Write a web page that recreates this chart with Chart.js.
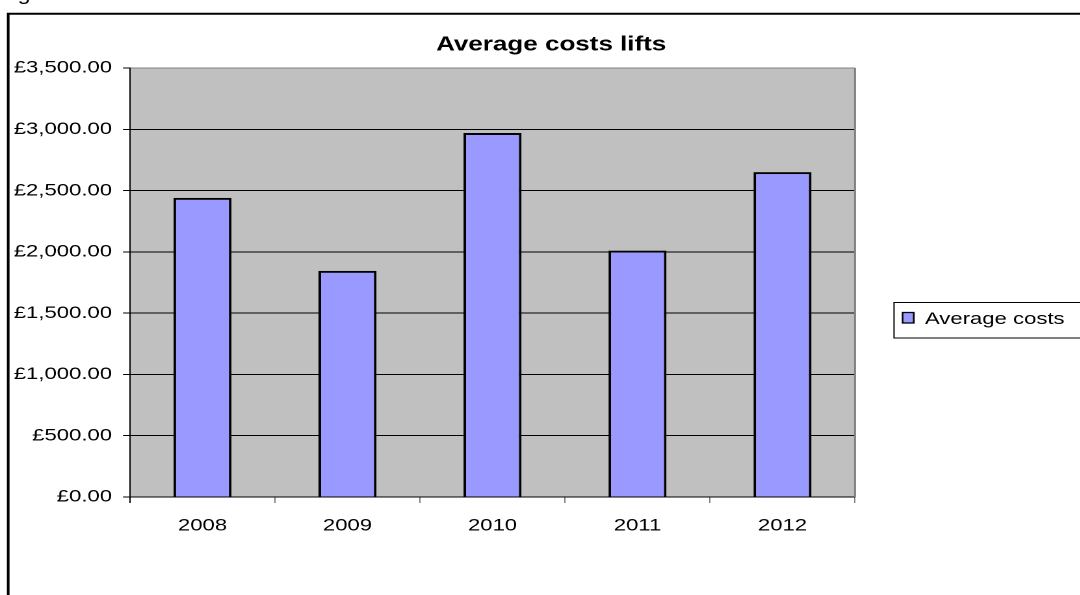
<!DOCTYPE html>
<html lang="en">
  <head>
    <meta charset="UTF-8" />
    <meta name="viewport" content="width=device-width, initial-scale=1.0" />
    <title>Average costs lifts</title>
    <script src="https://cdn.jsdelivr.net/npm/chart.js"></script>
    <style>
      html,
      body {
        margin: 0;
        padding: 0;
        background: #fff;
        overflow: hidden;
      }
      body {
        width: 1080px;
        height: 595px;
        position: relative;
      }
      /* the sheet is drawn narrow and widened, like the stretched chart object */
      #field {
        position: absolute;
        left: 0;
        top: 0;
        width: 848px;
        height: 595px;
        transform: scaleX(1.3);
        transform-origin: 0 0;
      }
    </style>
  </head>
  <body>
    <div id="field">
      <canvas id="myChart" width="848" height="595"></canvas>
    </div>

    <script>
      const chartTitle = "Average costs lifts";
      const seriesName = "Average costs";
      const years = ["2008", "2009", "2010", "2011", "2012"];
      const averageCosts = [2440, 1845, 2970, 2010, 2650];
      const yTicks = [0, 500, 1000, 1500, 2000, 2500, 3000, 3500];

      const fontFamily = '"Liberation Sans", Arial, sans-serif';
      const barColor = "#9999FF";
      const plotGrey = "#C0C0C0";
      const edgeGrey = "#808080";

      function pounds(v) {
        return (
          "£" +
          Number(v).toLocaleString("en-GB", {
            minimumFractionDigits: 2,
            maximumFractionDigits: 2,
          })
        );
      }

      // frame, grey plot area, title and boxed legend
      const sheetDecor = {
        id: "sheetDecor",
        beforeDraw(chart) {
          const { ctx, chartArea: a } = chart;
          ctx.save();
          // tail of the caption letter above the frame
          ctx.fillStyle = "#000";
          ctx.font = "18px " + fontFamily;
          ctx.textBaseline = "alphabetic";
          ctx.textAlign = "left";
          ctx.fillText("g", 13.5, 0);

          // outer chart frame
          ctx.strokeStyle = "#000";
          ctx.lineWidth = 2;
          ctx.beginPath();
          ctx.moveTo(6.3, 800);
          ctx.lineTo(6.3, 13.7);
          ctx.lineTo(845, 13.7);
          ctx.stroke();
          ctx.lineWidth = 1.5;
          ctx.beginPath();
          ctx.moveTo(6.3, 13);
          ctx.lineTo(6.3, 800);
          ctx.stroke();

          ctx.fillStyle = plotGrey;
          ctx.fillRect(a.left, a.top, a.right - a.left, a.bottom - a.top);
          ctx.restore();
        },
        beforeDatasetsDraw(chart) {
          const { ctx, chartArea: a } = chart;
          ctx.save();
          ctx.strokeStyle = edgeGrey;
          ctx.lineWidth = 1.5;
          ctx.beginPath();
          ctx.moveTo(a.right, a.top);
          ctx.lineTo(a.right, a.bottom);
          ctx.stroke();
          ctx.restore();
        },
        afterDraw(chart) {
          const { ctx } = chart;
          ctx.save();
          ctx.fillStyle = "#000";
          ctx.font = "bold 20px " + fontFamily;
          ctx.textAlign = "center";
          ctx.textBaseline = "middle";
          ctx.fillText(chartTitle, 424, 45);

          // legend box
          ctx.strokeStyle = "#000";
          ctx.lineWidth = 1;
          ctx.strokeRect(687.7, 302.5, 170, 35.5);
          const ds = chart.data.datasets[0];
          ctx.fillStyle = ds.backgroundColor;
          ctx.fillRect(694.3, 312.5, 8.6, 10.5);
          ctx.lineWidth = 1.3;
          ctx.strokeRect(694.3, 312.5, 8.6, 10.5);
          ctx.fillStyle = "#000";
          ctx.font = "17px " + fontFamily;
          ctx.textAlign = "left";
          ctx.fillText(ds.label, 711.5, 319.5);
          ctx.restore();
        },
      };

      const config = {
        type: "bar",
        data: {
          labels: years,
          datasets: [
            {
              label: seriesName,
              data: averageCosts,
              backgroundColor: barColor,
              borderColor: "#000",
              borderWidth: 2,
              barPercentage: 0.4,
              categoryPercentage: 1,
            },
          ],
        },
        options: {
          responsive: false,
          animation: false,
          devicePixelRatio: 2,
          layout: {
            padding: { left: 6, right: 190.3, top: 68, bottom: 0 },
          },
          plugins: {
            legend: { display: false },
            title: { display: false },
            tooltip: { enabled: false },
          },
          scales: {
            x: {
              afterFit: (s) => {
                s.height = 98;
              },
              grid: {
                drawOnChartArea: false,
                drawTicks: true,
                tickLength: 6,
                tickColor: (c) => (c.index === 0 ? "#000" : edgeGrey),
              },
              border: { display: true, color: "#000", width: 1 },
              ticks: {
                color: "#000",
                padding: 12.5,
                font: { family: fontFamily, size: 17 },
              },
            },
            y: {
              min: 0,
              max: 3500,
              afterFit: (s) => {
                s.width = 94;
              },
              afterBuildTicks: (s) => {
                s.ticks = yTicks.map((v) => ({ value: v }));
              },
              grid: {
                color: (c) => (c.tick && c.tick.value === 3500 ? edgeGrey : "#000"),
                lineWidth: 1,
                drawTicks: true,
                tickLength: 5.4,
                tickColor: "#000",
              },
              border: { display: true, color: "#000", width: 1 },
              ticks: {
                color: "#000",
                padding: 8.4,
                font: { family: fontFamily, size: 17 },
                callback: (v) => pounds(v),
              },
            },
          },
        },
        plugins: [sheetDecor],
      };

      new Chart(document.getElementById("myChart"), config);
    </script>
  </body>
</html>
